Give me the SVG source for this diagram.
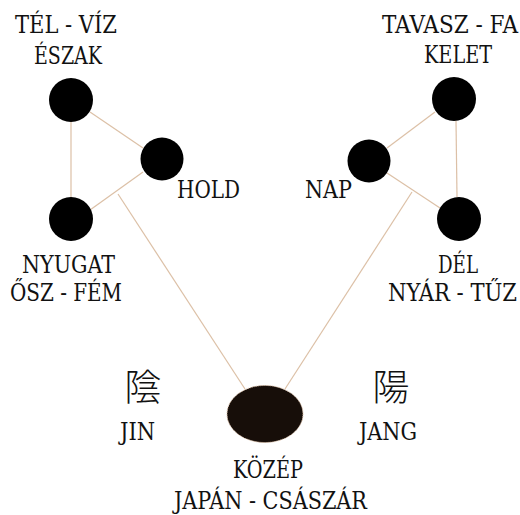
<svg xmlns="http://www.w3.org/2000/svg" width="520" height="515" viewBox="0 0 520 515">
<style>
.n{fill:#000}
.c line{stroke:#dcc0a6;stroke-width:1.2}
.t{font-family:"DejaVu Serif",serif;font-stretch:condensed;font-size:24px;fill:#111}
.k{font-family:"Noto Sans CJK JP","Noto Sans CJK SC",sans-serif;font-size:37px;font-weight:300;fill:#111}
</style>
<rect width="520" height="515" fill="#fff"/>
<g class="c" id="connectors">
<line x1="71" y1="122" x2="71" y2="197"/>
<line x1="90" y1="112" x2="143" y2="148"/>
<line x1="143" y1="172" x2="90" y2="210"/>
<line x1="118" y1="194" x2="245" y2="389"/>
<line x1="435" y1="112" x2="387" y2="148"/>
<line x1="456" y1="121" x2="457" y2="197"/>
<line x1="387" y1="173" x2="440" y2="208"/>
<line x1="412" y1="192" x2="285" y2="389"/>
</g>
<g id="north"><circle class="n" cx="71" cy="100" r="22"/><text class="t" x="15" y="33" textLength="102" lengthAdjust="spacingAndGlyphs">TÉL - VÍZ</text><text class="t" x="34" y="64" textLength="68" lengthAdjust="spacingAndGlyphs">ÉSZAK</text></g>
<g id="hold"><circle class="n" cx="162" cy="159" r="21.5"/><text class="t" x="177" y="198" textLength="63" lengthAdjust="spacingAndGlyphs">HOLD</text></g>
<g id="west"><circle class="n" cx="71" cy="219" r="22"/><text class="t" x="22" y="273" textLength="93" lengthAdjust="spacingAndGlyphs">NYUGAT</text><text class="t" x="10" y="301" textLength="112" lengthAdjust="spacingAndGlyphs">ŐSZ - FÉM</text></g>
<g id="east"><circle class="n" cx="454" cy="99" r="22"/><text class="t" x="382" y="33" textLength="136" lengthAdjust="spacingAndGlyphs">TAVASZ - FA</text><text class="t" x="424" y="63" textLength="68" lengthAdjust="spacingAndGlyphs">KELET</text></g>
<g id="nap"><circle class="n" cx="369" cy="161" r="21.5"/><text class="t" x="305" y="198" textLength="47" lengthAdjust="spacingAndGlyphs">NAP</text></g>
<g id="south"><circle class="n" cx="459" cy="219" r="22"/><text class="t" x="438" y="273" textLength="40" lengthAdjust="spacingAndGlyphs">DÉL</text><text class="t" x="388" y="301" textLength="129" lengthAdjust="spacingAndGlyphs">NYÁR - TŰZ</text></g>
<g id="center"><ellipse cx="265" cy="414" rx="38" ry="28.5" fill="#170e09" stroke="#d8b89c" stroke-width="1" stroke-dasharray="1 1"/><text class="t" x="233" y="478" textLength="70" lengthAdjust="spacingAndGlyphs">KÖZÉP</text><text class="t" x="174" y="509" textLength="193" lengthAdjust="spacingAndGlyphs">JAPÁN - CSÁSZÁR</text></g>
<g id="jin"><text class="k" x="143" y="401" text-anchor="middle">陰</text><text class="t" x="120" y="440" textLength="35" lengthAdjust="spacingAndGlyphs">JIN</text></g>
<g id="jang"><text class="k" x="391" y="401" text-anchor="middle">陽</text><text class="t" x="359" y="440" textLength="58" lengthAdjust="spacingAndGlyphs">JANG</text></g>
</svg>
